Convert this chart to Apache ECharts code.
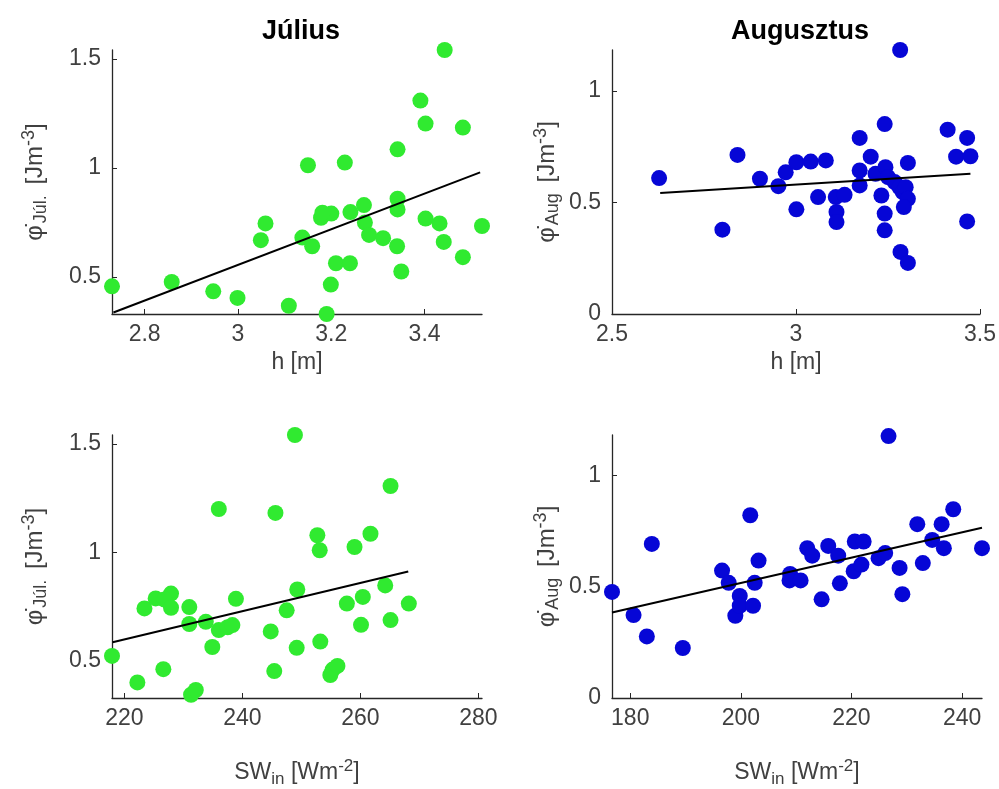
<!DOCTYPE html>
<html><head><meta charset="utf-8">
<script src="https://cdn.jsdelivr.net/npm/echarts@6/dist/echarts.min.js"></script>
<style>html,body{margin:0;padding:0;background:#fff}#c{width:999px;height:789px}</style>
</head><body><div id="c"></div>
<script>
// ---- Data: July vs h ----
const julHX = [2.730,2.858,2.947,2.999,3.059,3.049,3.109,3.190,3.150,3.138,3.159,3.178,3.200,3.181,3.229,3.210,3.240,3.199,3.241,3.270,3.272,3.281,3.311,3.341,3.342,3.342,3.342,3.350,3.391,3.402,3.443,3.482,3.402,3.432,3.441,3.482,3.523];
const julHY = [0.456,0.476,0.433,0.403,0.745,0.668,0.367,0.329,1.012,0.680,0.640,0.771,0.790,0.794,1.024,0.562,0.562,0.464,0.797,0.829,0.749,0.692,0.677,0.640,1.085,0.858,0.809,0.524,1.309,1.203,1.541,1.185,0.767,0.745,0.660,0.590,0.733];
const julHFitX = [2.733, 3.519];
const julHFitY = [0.336, 0.979];
// ---- Data: August vs h ----
const augHX = [2.628,2.800,2.841,2.902,2.952,2.972,3.001,3.001,3.040,3.081,3.060,3.108,3.132,3.110,3.110,3.173,3.173,3.173,3.203,3.216,3.241,3.243,3.232,3.241,3.241,3.250,3.268,3.283,3.281,3.290,3.304,3.298,3.304,3.293,3.284,3.304,3.412,3.435,3.465,3.474,3.465];
const augHY = [0.609,0.378,0.713,0.606,0.573,0.635,0.680,0.469,0.683,0.688,0.524,0.524,0.534,0.457,0.412,0.789,0.643,0.576,0.705,0.628,0.851,0.658,0.531,0.450,0.375,0.613,0.591,1.183,0.568,0.546,0.677,0.568,0.516,0.479,0.278,0.229,0.826,0.705,0.789,0.707,0.415];
const augHFitX = [2.631, 3.474];
const augHFitY = [0.542, 0.628];
// ---- Data: July vs SW_in ----
const julSWX = [248.9,265.1,236.0,245.6,252.7,253.1,261.7,259.0,249.3,238.9,223.4,225.3,227.9,226.8,227.9,231.0,231.0,233.8,236.0,237.5,238.3,234.9,247.5,244.8,249.2,253.2,245.4,255.3,254.9,256.1,257.7,260.4,260.1,264.2,265.1,268.2,217.9,226.6,222.2,231.3,232.1];
const julSWY = [1.541,1.306,1.200,1.182,1.079,1.010,1.086,1.025,0.829,0.786,0.742,0.788,0.810,0.783,0.745,0.748,0.670,0.680,0.642,0.655,0.665,0.564,0.733,0.636,0.560,0.589,0.453,0.460,0.435,0.477,0.764,0.795,0.666,0.848,0.688,0.764,0.523,0.462,0.401,0.344,0.366];
const julSWFitX = [218.0, 268.1];
const julSWFitY = [0.586, 0.912];
// ---- Data: August vs SW_in ----
const augSWX = [176.7,180.6,183.0,183.9,189.5,196.6,197.8,199.8,199.0,199.8,202.2,201.7,202.5,203.2,208.9,208.8,210.8,212.0,212.9,214.6,215.8,217.6,217.9,220.6,222.2,220.4,221.8,224.9,226.1,226.7,228.7,229.2,231.9,232.9,234.6,236.3,236.7,238.4,243.6];
const augSWY = [0.477,0.373,0.277,0.693,0.225,0.573,0.518,0.459,0.370,0.415,0.415,0.822,0.518,0.618,0.558,0.529,0.529,0.674,0.640,0.444,0.684,0.640,0.516,0.704,0.704,0.570,0.600,0.629,0.652,1.178,0.585,0.467,0.782,0.607,0.711,0.782,0.674,0.849,0.674];
const augSWFitX = [176.7, 243.6];
const augSWFitY = [0.385, 0.766];
// ---- Axis ranges & ticks ----
const julHXRange = [2.730, 3.523], julHXTicks = [2.8, 3, 3.2, 3.4];
const julYRange = [0.329, 1.541], julYTicks = [0.5, 1, 1.5];
const augHXRange = [2.5, 3.5], augHXTicks = [2.5, 3, 3.5];
const augYRange = [0, 1.183], augYTicks = [0, 0.5, 1];
const julSWXRange = [217.9, 280.6], julSWXTicks = [220, 240, 260, 280];
const augSWXRange = [176.7, 243.6], augSWXTicks = [180, 200, 220, 240];
const titles = ['Július', 'Augusztus'];

const FONT = "'Liberation Sans', Arial, sans-serif";
const AXC = '#262626';
const LBL = '#404040';
const GREEN = '#30ea30';
const BLUE = '#0606d6';

const zip = (a, b) => a.map((v, i) => [v, b[i]]);

const grids = [
  {left: 112, top: 50, width: 370, height: 264},
  {left: 612, top: 50, width: 370, height: 264},
  {left: 112, top: 435, width: 370, height: 263},
  {left: 612, top: 435, width: 370, height: 263}
];

const richBase = {
  a: {fontSize: 23, fontFamily: FONT, color: LBL, lineHeight: 30},
  s: {fontSize: 17, fontFamily: FONT, color: LBL, lineHeight: 14, verticalAlign: 'bottom'},
  p: {fontSize: 17, fontFamily: FONT, color: LBL, lineHeight: 14, verticalAlign: 'top'}
};
const richY = {
  a: {fontSize: 24, fontFamily: FONT, color: LBL, lineHeight: 30},
  s: {fontSize: 18, fontFamily: FONT, color: LBL, lineHeight: 14, verticalAlign: 'bottom', padding: [0, 4, 0, 2]},
  p: {fontSize: 18, fontFamily: FONT, color: LBL, lineHeight: 14, verticalAlign: 'top'}
};

function xAxis(i, range, ticks, name, gap) {
  return {
    type: 'value', gridIndex: i, min: range[0], max: range[1],
    axisLine: {show: true, onZero: false, lineStyle: {color: AXC, width: 1.3}},
    axisTick: {show: true, inside: true, length: 5, customValues: ticks, lineStyle: {color: AXC}},
    axisLabel: {customValues: ticks, fontSize: 23, fontFamily: FONT, color: LBL, margin: 9, showMinLabel: true, showMaxLabel: true},
    splitLine: {show: false},
    name: name, nameLocation: 'middle', nameGap: gap,
    nameTextStyle: {rich: richBase, fontSize: 23, fontFamily: FONT, color: LBL}
  };
}
function yAxis(i, range, ticks, name, gap) {
  return {
    type: 'value', gridIndex: i, min: range[0], max: range[1],
    axisLine: {show: true, onZero: false, lineStyle: {color: AXC, width: 1.3}},
    axisTick: {show: true, inside: true, length: 5, customValues: ticks, lineStyle: {color: AXC}},
    axisLabel: {customValues: ticks, fontSize: 23, fontFamily: FONT, color: LBL, margin: 11, showMinLabel: true, showMaxLabel: true},
    splitLine: {show: false},
    name: name, nameLocation: 'middle', nameGap: gap, nameRotate: 90,
    nameTextStyle: {rich: richY, fontSize: 24, fontFamily: FONT, color: LBL}
  };
}

const yNameJul = '{a|\u03C6\u0307}{s|Júl.}{a| [Jm}{p|-3}{a|]}';
const yNameAug = '{a|\u03C6\u0307}{s|Aug}{a| [Jm}{p|-3}{a|]}';
const xNameH = '{a|h [m]}';
const xNameSW = '{a|SW}{s|in}{a| [Wm}{p|-2}{a|]}';

function scatter(i, xs, ys, color) {
  return {type: 'scatter', xAxisIndex: i, yAxisIndex: i, data: zip(xs, ys), symbolSize: 16,
    itemStyle: {color: color, opacity: 1}, clip: false, silent: true};
}
function fit(i, xs, ys) {
  return {type: 'line', xAxisIndex: i, yAxisIndex: i, data: zip(xs, ys), symbol: 'none',
    lineStyle: {color: '#000', width: 2}, clip: false, silent: true, z: 3};
}

const chart = echarts.init(document.getElementById('c'), null, {renderer: 'canvas'});
chart.setOption({
  animation: false,
  backgroundColor: '#fff',
  title: [
    {text: titles[0], left: 296, top: 13, textAlign: 'center', textStyle: {fontSize: 27, fontWeight: 'bold', fontFamily: FONT, color: '#000'}},
    {text: titles[1], left: 795, top: 13, textAlign: 'center', textStyle: {fontSize: 27, fontWeight: 'bold', fontFamily: FONT, color: '#000'}}
  ],
  grid: grids,
  xAxis: [
    xAxis(0, julHXRange, julHXTicks, xNameH, 34),
    xAxis(1, augHXRange, augHXTicks, xNameH, 34),
    xAxis(2, julSWXRange, julSWXTicks, xNameSW, 60),
    xAxis(3, augSWXRange, augSWXTicks, xNameSW, 60)
  ],
  yAxis: [
    yAxis(0, julYRange, julYTicks, yNameJul, 62),
    yAxis(1, augYRange, augYTicks, yNameAug, 50),
    yAxis(2, julYRange, julYTicks, yNameJul, 62),
    yAxis(3, augYRange, augYTicks, yNameAug, 50)
  ],
  series: [
    scatter(0, julHX, julHY, GREEN), fit(0, julHFitX, julHFitY),
    scatter(1, augHX, augHY, BLUE), fit(1, augHFitX, augHFitY),
    scatter(2, julSWX, julSWY, GREEN), fit(2, julSWFitX, julSWFitY),
    scatter(3, augSWX, augSWY, BLUE), fit(3, augSWFitX, augSWFitY)
  ]
});
</script>
</body></html>
